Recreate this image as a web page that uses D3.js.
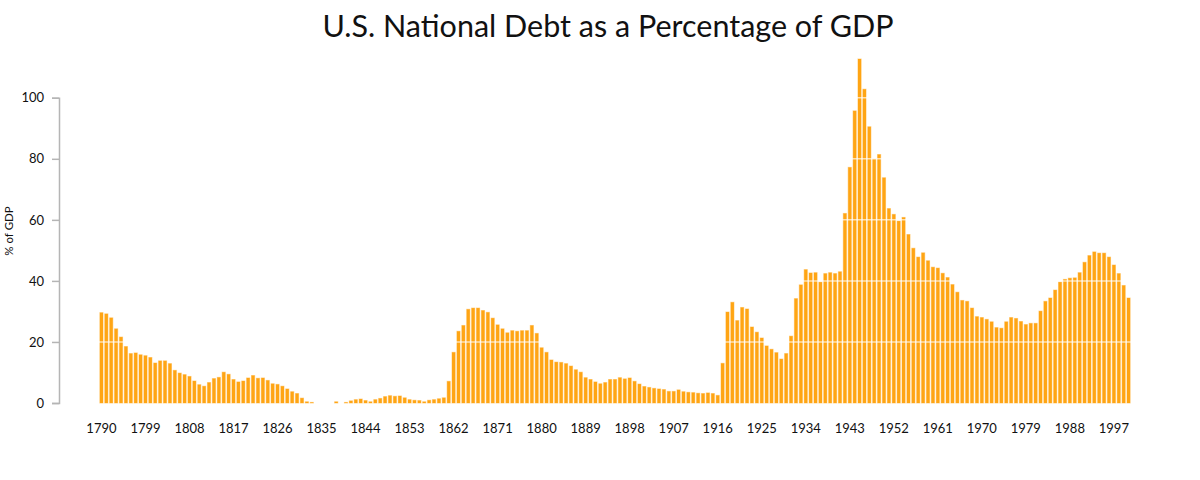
<!DOCTYPE html>
<html>
<head>
<meta charset="utf-8">
<script src="https://cdn.jsdelivr.net/npm/d3@7"></script>
<style>
    body { margin: 0; background: #fff; }
    text { font-family: Lato, "Open Sans", sans-serif; }
</style>
</head>
<body>
<div id="bar-grafics"></div>
<script>
// first year of the series, one bar per year
const firstYear = 1790

// debt as % of GDP, 1790 - 2000
const debt = [
    29.6, 29.2, 27.9, 24.3, 21.6, 18.5, 16.2, 16.4, 15.8, 15.5,
    14.9, 13.1, 13.8, 13.8, 12.9, 10.7, 9.8, 9.3, 8.7, 7.2,
    6.0, 5.5, 6.7, 8.0, 8.4, 10.1, 9.4, 7.7, 6.9, 7.2,
    8.2, 9.0, 8.1, 8.2, 7.4, 6.3, 6.1, 5.5, 4.6, 3.7,
    3.1, 1.6, 0.4, 0.2, 0, 0, 0, 0, 0.4, 0,
    0.2, 0.7, 1.1, 1.3, 0.8, 0.4, 1.1, 1.5, 2.1, 2.4,
    2.2, 2.3, 1.7, 1.1, 0.9, 0.8, 0.4, 0.9, 1.1, 1.4,
    1.7, 7.1, 16.6, 23.5, 25.4, 30.7, 31.1, 31.1, 30.3, 29.7,
    27.8, 25.6, 24.3, 23.0, 23.7, 23.5, 23.7, 23.7, 25.4, 22.8,
    18.1, 16.6, 14.1, 13.4, 13.3, 12.9, 12.1, 10.9, 10.1, 8.3,
    7.7, 6.9, 6.3, 6.7, 7.7, 7.7, 8.3, 7.9, 8.2, 7.1,
    6.2, 5.4, 5.1, 4.8, 4.6, 4.4, 3.8, 3.8, 4.3, 3.7,
    3.5, 3.4, 3.2, 3.1, 3.3, 3.1, 2.5, 13.0, 29.8, 33.0,
    27.0, 31.3, 30.8, 24.9, 23.2, 21.3, 18.7, 17.6, 16.5, 14.4,
    16.2, 21.9, 34.2, 38.7, 43.7, 42.6, 42.7, 39.6, 42.4, 42.7,
    42.4, 43.0, 62.1, 77.2, 95.7, 112.7, 102.8, 90.5, 79.9, 81.4,
    73.8, 63.7, 61.8, 59.6, 60.8, 55.2, 50.7, 47.8, 49.2, 46.6,
    44.5, 44.2, 42.5, 41.1, 38.8, 36.3, 33.6, 33.3, 31.1, 28.3,
    28.0, 27.4, 26.6, 24.7, 24.5, 26.6, 28.0, 27.7, 26.7, 25.7,
    26.1, 26.1, 30.1, 33.3, 34.4, 37.0, 39.6, 40.5, 40.9, 41.0,
    42.7, 46.1, 48.3, 49.5, 49.1, 49.1, 47.8, 45.2, 42.4, 38.5,
    34.4
]

// labels on the x axis (every 9 years)
const xTickYears = [1790, 1799, 1808, 1817, 1826, 1835, 1844, 1853, 1862, 1871, 1880, 1889,
    1898, 1907, 1916, 1925, 1934, 1943, 1952, 1961, 1970, 1979, 1988, 1997]

// labels on the y axis
const yTicks = [0, 20, 40, 60, 80, 100]

const title = "U.S. National Debt as a Percentage of GDP"

function showBarChart(values) {
    var width = 1200
    var height = 480
    var margin = { top: 59, right: 70, bottom: 77, left: 99 }

    var data = values.map((v, i) => ({ year: firstYear + i, value: v }))

    var svg = d3.select("#bar-grafics").append("svg")
        .attr("width", width)
        .attr("height", height)

    var xScale = d3.scaleBand()
        .domain(data.map(d => d.year))
        .range([margin.left, width - margin.right + 1])
        .paddingInner(0.36)
        .paddingOuter(0.18)

    var yScale = d3.scaleLinear()
        .domain([0, d3.max(values)])
        .range([height - margin.bottom, margin.top])

    // title
    svg.append("text")
        .attr("x", 608)
        .attr("y", 37)
        .attr("text-anchor", "middle")
        .style("font-size", "30.5px")
        .style("fill", "#111")
        .text(title)

    // bars (zero years are left out)
    svg.append("g")
        .selectAll("rect")
        .data(data.filter(d => d.value > 0))
        .enter().append("rect")
        .attr("x", d => xScale(d.year))
        .attr("y", d => yScale(d.value))
        .attr("width", xScale.bandwidth())
        .attr("height", d => yScale(0) - yScale(d.value))
        .attr("fill", "#ffa514")
        .attr("stroke", "#ffa514")
        .attr("stroke-opacity", 0.45)
        .attr("stroke-width", 1)

    // white grid lines drawn over the bars
    svg.append("g")
        .selectAll("line")
        .data(yTicks.filter(t => t > 0))
        .enter().append("line")
        .attr("x1", xScale.range()[0])
        .attr("x2", xScale.range()[1])
        .attr("y1", d => yScale(d))
        .attr("y2", d => yScale(d))
        .attr("stroke", "#fff")
        .attr("stroke-opacity", 0.65)
        .attr("stroke-width", 1.5)

    // y axis, only up to the last tick
    var yAxisScale = d3.scaleLinear()
        .domain([0, 100])
        .range([yScale(0), yScale(100)])

    var yAxis = svg.append("g")
        .attr("transform", "translate(59,0)")
        .call(d3.axisLeft(yAxisScale).tickValues(yTicks).tickSize(7).tickPadding(8))

    yAxis.selectAll("path, line").attr("stroke", "#b5b5b5").attr("stroke-width", 1.5)
    yAxis.selectAll("text").style("font-size", "13px").style("fill", "#111")
        .style("font-family", "Lato, sans-serif")

    // x labels, no axis line
    svg.append("g")
        .selectAll("text")
        .data(xTickYears)
        .enter().append("text")
        .attr("x", d => xScale(d) + xScale.bandwidth() / 2)
        .attr("y", 433)
        .attr("text-anchor", "middle")
        .style("font-size", "13px")
        .style("fill", "#111")
        .text(d => d)

    // y label
    svg.append("text")
        .attr("transform", "translate(13," + (yScale(0) + yScale(d3.max(values))) / 2 + ") rotate(-90)")
        .attr("text-anchor", "middle")
        .style("font-size", "11.5px")
        .style("fill", "#111")
        .text("% of GDP")
}

showBarChart(debt)
</script>
</body>
</html>
